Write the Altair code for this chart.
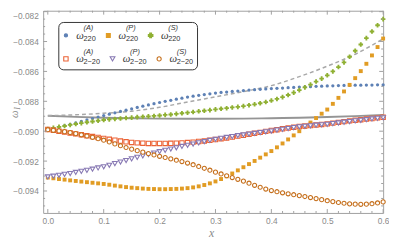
import altair as alt
import pandas as pd

# ---------------- data ----------------
x_vals = [i / 100 for i in range(61)]

omega_A220 = [-0.08990, -0.08981, -0.08972, -0.08963, -0.08954, -0.08945, -0.08935, -0.08925, -0.08915, -0.08905,
              -0.08895, -0.08886, -0.08877, -0.08868, -0.08859, -0.08850, -0.08841, -0.08833, -0.08824, -0.08816,
              -0.08808, -0.08800, -0.08793, -0.08786, -0.08779, -0.08772, -0.08766, -0.08760, -0.08755, -0.08750,
              -0.08745, -0.08741, -0.08738, -0.08734, -0.08731, -0.08728, -0.08725, -0.08722, -0.08720, -0.08717,
              -0.08715, -0.08713, -0.08711, -0.08709, -0.08707, -0.08705, -0.08703, -0.08702, -0.08700, -0.08699,
              -0.08697, -0.08696, -0.08695, -0.08694, -0.08693, -0.08692, -0.08692, -0.08691, -0.08691, -0.08690,
              -0.08690]

omega_P220 = [-0.09310, -0.09315, -0.09320, -0.09324, -0.09329, -0.09333, -0.09337, -0.09341, -0.09345, -0.09349,
              -0.09353, -0.09358, -0.09364, -0.09369, -0.09374, -0.09378, -0.09381, -0.09384, -0.09386, -0.09387,
              -0.09388, -0.09388, -0.09387, -0.09386, -0.09384, -0.09381, -0.09376, -0.09369, -0.09360, -0.09349,
              -0.09336, -0.09320, -0.09302, -0.09283, -0.09262, -0.09241, -0.09220, -0.09199, -0.09177, -0.09155,
              -0.09133, -0.09108, -0.09082, -0.09055, -0.09028, -0.09000, -0.08971, -0.08942, -0.08912, -0.08883,
              -0.08855, -0.08817, -0.08777, -0.08734, -0.08690, -0.08645, -0.08598, -0.08549, -0.08493, -0.08437,
              -0.08380]

omega_S220 = [-0.08985, -0.08978, -0.08971, -0.08965, -0.08958, -0.08952, -0.08946, -0.08940, -0.08935, -0.08930,
              -0.08925, -0.08921, -0.08918, -0.08915, -0.08912, -0.08909, -0.08906, -0.08903, -0.08901, -0.08898,
              -0.08895, -0.08891, -0.08888, -0.08884, -0.08880, -0.08876, -0.08872, -0.08867, -0.08863, -0.08859,
              -0.08854, -0.08850, -0.08846, -0.08841, -0.08837, -0.08832, -0.08826, -0.08820, -0.08813, -0.08805,
              -0.08795, -0.08784, -0.08772, -0.08758, -0.08742, -0.08725, -0.08707, -0.08688, -0.08668, -0.08648,
              -0.08626, -0.08600, -0.08571, -0.08540, -0.08502, -0.08462, -0.08420, -0.08377, -0.08333, -0.08291,
              -0.08250]

omega_A2m20 = [-0.08988, -0.08994, -0.09000, -0.09006, -0.09012, -0.09018, -0.09024, -0.09030, -0.09036, -0.09042,
               -0.09048, -0.09054, -0.09060, -0.09066, -0.09071, -0.09075, -0.09078, -0.09080, -0.09082, -0.09082,
               -0.09082, -0.09082, -0.09081, -0.09080, -0.09078, -0.09076, -0.09073, -0.09069, -0.09065, -0.09061,
               -0.09056, -0.09050, -0.09045, -0.09039, -0.09033, -0.09027, -0.09020, -0.09014, -0.09008, -0.09001,
               -0.08995, -0.08990, -0.08984, -0.08979, -0.08974, -0.08969, -0.08965, -0.08962, -0.08958, -0.08955,
               -0.08951, -0.08946, -0.08941, -0.08936, -0.08931, -0.08927, -0.08923, -0.08919, -0.08915, -0.08911,
               -0.08907]

omega_P2m20 = [-0.09306, -0.09301, -0.09295, -0.09289, -0.09283, -0.09276, -0.09269, -0.09262, -0.09254, -0.09246,
               -0.09238, -0.09228, -0.09217, -0.09206, -0.09196, -0.09185, -0.09175, -0.09165, -0.09156, -0.09146,
               -0.09137, -0.09128, -0.09119, -0.09111, -0.09102, -0.09094, -0.09086, -0.09078, -0.09070, -0.09062,
               -0.09055, -0.09048, -0.09042, -0.09036, -0.09030, -0.09025, -0.09020, -0.09015, -0.09009, -0.09004,
               -0.08999, -0.08993, -0.08988, -0.08982, -0.08976, -0.08971, -0.08967, -0.08964, -0.08960, -0.08957,
               -0.08954, -0.08949, -0.08945, -0.08940, -0.08936, -0.08931, -0.08927, -0.08923, -0.08918, -0.08914,
               -0.08910]

omega_S2m20 = [-0.08990, -0.08994, -0.08998, -0.09003, -0.09009, -0.09016, -0.09024, -0.09032, -0.09041, -0.09050,
               -0.09060, -0.09072, -0.09085, -0.09097, -0.09109, -0.09120, -0.09130, -0.09140, -0.09150, -0.09159,
               -0.09168, -0.09176, -0.09185, -0.09194, -0.09203, -0.09213, -0.09224, -0.09236, -0.09248, -0.09261,
               -0.09274, -0.09286, -0.09298, -0.09310, -0.09322, -0.09334, -0.09348, -0.09362, -0.09375, -0.09387,
               -0.09397, -0.09405, -0.09412, -0.09419, -0.09425, -0.09431, -0.09437, -0.09444, -0.09451, -0.09458,
               -0.09465, -0.09471, -0.09477, -0.09482, -0.09486, -0.09488, -0.09489, -0.09488, -0.09485, -0.09480,
               -0.09473]

line_x = [0.00, 0.05, 0.10, 0.15, 0.20, 0.25, 0.30, 0.35, 0.40, 0.45, 0.50, 0.55, 0.60]
dashed_y = [-0.08896, -0.08890, -0.08880, -0.08866, -0.08840, -0.08805, -0.08770, -0.08735, -0.08695,
            -0.08635, -0.08565, -0.08485, -0.08382]
solid_y = [-0.08896, -0.08904, -0.08910, -0.08914, -0.08916, -0.08917, -0.08917, -0.08916, -0.08913,
           -0.08910, -0.08905, -0.08899, -0.08892]

x_ticks = [0.0, 0.1, 0.2, 0.3, 0.4, 0.5, 0.6]
x_minor = [0.02, 0.04, 0.06, 0.08, 0.12, 0.14, 0.16, 0.18, 0.22, 0.24, 0.26, 0.28, 0.32, 0.34, 0.36, 0.38,
           0.42, 0.44, 0.46, 0.48, 0.52, 0.54, 0.56, 0.58]
y_ticks = [-0.094, -0.092, -0.090, -0.088, -0.086, -0.084, -0.082]
y_minor = [-0.0950, -0.0945, -0.0935, -0.0930, -0.0925, -0.0915, -0.0910, -0.0905, -0.0895, -0.0890,
           -0.0885, -0.0875, -0.0870, -0.0865, -0.0855, -0.0850, -0.0845, -0.0835, -0.0830, -0.0825]

sup_labels = ["(A)", "(P)", "(S)", "(A)", "(P)", "(S)"]
sub_labels = ["220", "220", "220", "2\u221220", "2\u221220", "2\u221220"]

# ---------------- styles ----------------
colors = ["#5E81B5", "#E19C24", "#8FB032", "#EB6235", "#8778B3", "#C56E1A"]
shapes = ["circle", "square", "cross", "square", "triangle-down", "circle"]
filled = [True, True, True, False, False, False]
sizes = [11, 16, 22, 20, 24, 18]
series = [omega_A220, omega_P220, omega_S220, omega_A2m20, omega_P2m20, omega_S2m20]

W, H = 348, 207
FRAME = "#a0a0a0"
LABEL = "#8a8a8a"

xsc = alt.Scale(domain=[-0.0083, 0.6], nice=False, zero=False)
ysc = alt.Scale(domain=[-0.09547, -0.08194], nice=False, zero=False)
xaxis = alt.Axis(values=x_ticks, format=".1f", title=None, labelFlush=False, labelPadding=4)
yaxis = alt.Axis(values=y_ticks, format=".3f", title=None, labelFlush=2, labelPadding=5)

layers = []

# reference curves
ldf = pd.DataFrame({"x": line_x, "d": dashed_y, "s": solid_y})
layers.append(alt.Chart(ldf).mark_line(color="#959595", strokeWidth=2, interpolate="monotone").encode(
    x=alt.X("x:Q", scale=xsc, axis=xaxis), y=alt.Y("s:Q", scale=ysc, axis=yaxis)))
layers.append(alt.Chart(ldf).mark_line(color="#a8a8a8", strokeWidth=1.5, strokeDash=[4, 3],
                                       interpolate="monotone").encode(
    x=alt.X("x:Q", scale=xsc, axis=xaxis), y=alt.Y("d:Q", scale=ysc, axis=yaxis)))

# data series
for i, vals in enumerate(series):
    df = pd.DataFrame({"x": x_vals, "y": vals})
    if filled[i]:
        m = alt.Chart(df).mark_point(shape=shapes[i], filled=True, color=colors[i], size=sizes[i], opacity=1)
    else:
        m = alt.Chart(df).mark_point(shape=shapes[i], filled=True, fill="white", stroke=colors[i],
                                     strokeWidth=1.1, size=sizes[i], opacity=1)
    layers.append(m.encode(x=alt.X("x:Q", scale=xsc, axis=xaxis), y=alt.Y("y:Q", scale=ysc, axis=yaxis)))

# frame ticks (inward) on all four sides
def xt(vals, length):
    df = pd.DataFrame({"t": vals})
    out = []
    out.append(alt.Chart(df).mark_rule(color=FRAME, strokeWidth=1).encode(
        x=alt.X("t:Q", scale=xsc, axis=xaxis), y=alt.value(H), y2=alt.value(H - length)))
    out.append(alt.Chart(df).mark_rule(color=FRAME, strokeWidth=1).encode(
        x=alt.X("t:Q", scale=xsc, axis=xaxis), y=alt.value(0), y2=alt.value(length)))
    return out

def yt(vals, length):
    df = pd.DataFrame({"t": vals})
    out = []
    out.append(alt.Chart(df).mark_rule(color=FRAME, strokeWidth=1).encode(
        y=alt.Y("t:Q", scale=ysc, axis=yaxis), x=alt.value(0), x2=alt.value(length)))
    out.append(alt.Chart(df).mark_rule(color=FRAME, strokeWidth=1).encode(
        y=alt.Y("t:Q", scale=ysc, axis=yaxis), x=alt.value(W), x2=alt.value(W - length)))
    return out

layers += xt(x_ticks, 4) + xt(x_minor, 2) + yt(y_ticks, 4) + yt(y_minor, 2)

# legend box
layers.append(alt.Chart(pd.DataFrame({"a": [0]})).mark_rect(
    fill="white", stroke="#333333", strokeWidth=1, cornerRadius=5).encode(
    x=alt.value(16), x2=alt.value(158), y=alt.value(12), y2=alt.value(60.5)))

# legend entries (layout positions in pixels)
leg_x = [23.3, 66.7, 110.0, 23.3, 71.0, 118.7]
leg_y = [25.3, 25.3, 25.3, 49.3, 49.3, 49.3]
leg = pd.DataFrame({
    "px": leg_x, "py": leg_y, "sup": sup_labels, "sub": sub_labels,
    "shape": shapes, "stroke": colors,
    "fill": [c if f else "white" for c, f in zip(colors, filled)],
    "size": [s * 1.0 for s in sizes],
})
LX = alt.X("px:Q", scale=None, axis=None)
LY = alt.Y("py:Q", scale=None, axis=None)
layers.append(alt.Chart(leg).mark_point(filled=True, opacity=1, strokeWidth=1.1).encode(
    x=LX, y=LY, shape=alt.Shape("shape:N", scale=None), fill=alt.Fill("fill:N", scale=None),
    stroke=alt.Stroke("stroke:N", scale=None), size=alt.Size("size:Q", scale=None)))
layers.append(alt.Chart(leg).mark_text(font="Liberation Serif", fontStyle="italic", fontSize=11,
                                      align="left", baseline="middle", dx=10.5, dy=0.5, color="#333333").encode(
    x=LX, y=LY, text=alt.value("\u03c9")))
layers.append(alt.Chart(leg).mark_text(font="Liberation Sans", fontStyle="italic", fontSize=7.5,
                                      align="left", baseline="middle", dx=18, dy=-7.5, color="#333333").encode(
    x=LX, y=LY, text="sup:N"))
layers.append(alt.Chart(leg).mark_text(font="Liberation Sans", fontSize=7.5,
                                      align="left", baseline="middle", dx=18, dy=3.5, color="#333333").encode(
    x=LX, y=LY, text="sub:N"))

# axis titles
layers.append(alt.Chart(pd.DataFrame({"a": [0]})).mark_text(
    font="Liberation Serif", fontStyle="italic", fontSize=11, angle=270, color=LABEL,
    align="center", baseline="middle").encode(x=alt.value(-28.5), y=alt.value(106), text=alt.value("\u03c9")))
layers.append(alt.Chart(pd.DataFrame({"a": [0]})).mark_text(
    font="Liberation Serif", fontStyle="italic", fontSize=8, angle=270, color=LABEL,
    align="center", baseline="middle").encode(x=alt.value(-25.5), y=alt.value(100), text=alt.value("I")))
layers.append(alt.Chart(pd.DataFrame({"a": [0]})).mark_text(
    font="Liberation Serif", fontStyle="italic", fontSize=12, color=LABEL,
    align="center", baseline="middle").encode(x=alt.value(172.5), y=alt.value(228), text=alt.value("x")))

chart = alt.layer(*layers).properties(
    width=W, height=H,
    autosize=alt.AutoSizeParams(type="none"),
    padding={"left": 36, "top": 0, "right": 6, "bottom": 30},
    background="white",
).configure_view(stroke=FRAME, strokeWidth=1).configure_axis(
    domain=False, ticks=False, tickSize=0, grid=False, labelColor=LABEL,
    labelFont="Liberation Sans", labelFontSize=8.5, labelOverlap=False,
)

chart.save("out.html", embed_options={"renderer": "svg", "actions": False})
